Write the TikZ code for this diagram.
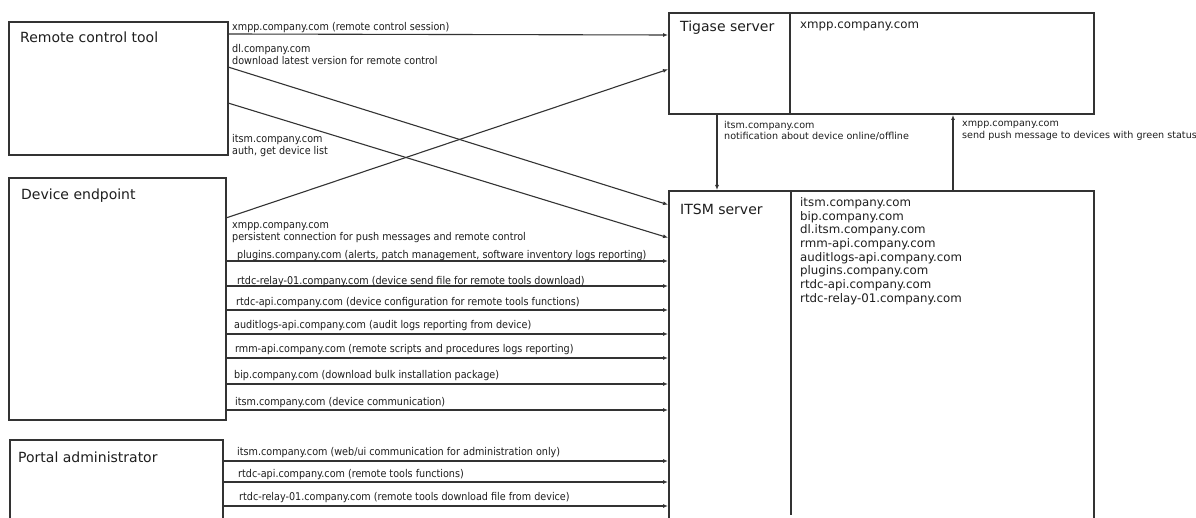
\documentclass[tikz,border=0pt]{standalone}
\usepackage{fontspec}
\setmainfont{DejaVu Sans}
\newfontfamily\condfont{DejaVu Sans Condensed}
\usetikzlibrary{arrows.meta}
\definecolor{linec}{HTML}{333333}
\definecolor{txt}{HTML}{1E1E1E}
\begin{document}
\begin{tikzpicture}[x=1pt,y=-1pt,
  box/.style={draw=linec, line width=1.5pt, rectangle, outer sep=0pt, inner sep=0pt, anchor=north west},
  title/.style={font=\fontsize{14}{16}\selectfont, text=txt, anchor=west, inner sep=0pt},
  lbl/.style={font=\condfont\fontsize{10.7}{12}\selectfont, text=txt, anchor=west, inner sep=0pt, align=left, yshift=-1pt},
  rlbl/.style={font=\fontsize{9.6}{11.5}\selectfont, text=txt, anchor=west, inner sep=0pt, align=left},
  list/.style={font=\fontsize{11.8}{13.7}\selectfont, text=txt, anchor=west, inner sep=0pt, align=left},
  conn/.style={draw=linec, line width=1.1pt, shorten >=1pt, -{Latex[length=5pt,width=4pt]}},
  divider/.style={draw=linec, line width=1.5pt}]
\useasboundingbox (0,0) rectangle (1196,518);
\fill[white] (0,0) rectangle (1196,518);

% boxes
\node[box, minimum width=219pt, minimum height=133pt] (rct) at (9,22) {};
\node[box, minimum width=217pt, minimum height=242pt] (dev) at (9,178) {};
\node[box, minimum width=213pt, minimum height=90pt] (adm) at (10,440) {};
\node[box, minimum width=425pt, minimum height=101pt] (tig) at (669,13) {};
\node[box, minimum width=425pt, minimum height=340pt] (itsm) at (669,191) {};

\coordinate (tigd) at ([xshift=121pt]tig.north west);
\draw[divider] (tigd) -- (tigd |- tig.south);
\coordinate (itsmd) at ([xshift=122pt]itsm.north west);
\draw[divider] (itsmd) -- (itsmd |- 0,515);

% titles
\node[title] (trct) at (20,37) {Remote control tool};
\node[title] (tdev) at (21,196) {Device endpoint};
\node[title] (tadm) at (18,457) {Portal administrator};
\node[title] (ttig) at (680,28) {Tigase server};
\node[title] (titsm) at (680,209) {ITSM server};

\node[list] (tighost) at (800,26) {xmpp.company.com};
\node[list] (itsmhosts) at (800,251) {itsm.company.com\\bip.company.com\\dl.itsm.company.com\\rmm-api.company.com\\auditlogs-api.company.com\\plugins.company.com\\rtdc-api.company.com\\rtdc-relay-01.company.com};

% connectors from remote control tool
\draw[conn] (rct.east |- 0,34) -- (tig.west |- 0,35);
\draw[conn] (rct.east |- 0,67) -- (itsm.west |- 0,205);
\draw[conn] (rct.east |- 0,103) -- (itsm.west |- 0,238);
\node[lbl] (l1) at (232,27) {xmpp.company.com (remote control session)};
\node[lbl] (l2) at (232,54) {dl.company.com\\download latest version for remote control};
\node[lbl] (l3) at (232,145) {itsm.company.com\\auth, get device list};

% device endpoint
\draw[conn] (dev.east |- 0,218) -- (tig.west |- 0,69);
\node[lbl] (l4) at (232,232) {xmpp.company.com\\persistent connection for push messages and remote control};
\foreach \yy in {261,286,310,334,358,384,410}
  \draw[conn] (dev.east |- 0,\yy) -- (itsm.west |- 0,\yy);
\node[lbl] (d1) at (237,255) {plugins.company.com (alerts, patch management, software inventory logs reporting)};
\node[lbl] (d2) at (237,281) {rtdc-relay-01.company.com (device send file for remote tools download)};
\node[lbl] (d3) at (236,302) {rtdc-api.company.com (device configuration for remote tools functions)};
\node[lbl] (d4) at (234,325) {auditlogs-api.company.com (audit logs reporting from device)};
\node[lbl] (d5) at (235,349) {rmm-api.company.com (remote scripts and procedures logs reporting)};
\node[lbl] (d6) at (234,375) {bip.company.com (download bulk installation package)};
\node[lbl] (d7) at (235,402) {itsm.company.com (device communication)};

% portal administrator
\foreach \yy in {461,482,506}
  \draw[conn] (adm.east |- 0,\yy) -- (itsm.west |- 0,\yy);
\node[lbl] (p1) at (237,452) {itsm.company.com (web/ui communication for administration only)};
\node[lbl] (p2) at (238,474) {rtdc-api.company.com (remote tools functions)};
\node[lbl] (p3) at (239,497) {rtdc-relay-01.company.com (remote tools download file from device)};

% tigase <-> itsm
\draw[conn] (tig.south -| 717,0) -- (itsm.north -| 717,0);
\draw[conn] (itsm.north -| 953,0) -- (tig.south -| 953,0);
\node[rlbl] (r1) at (724,131) {itsm.company.com\\notification about device online/offline};
\node[rlbl] (r2) at (962,131) {xmpp.company.com\\send push message to devices with green status};
\end{tikzpicture}
\end{document}
